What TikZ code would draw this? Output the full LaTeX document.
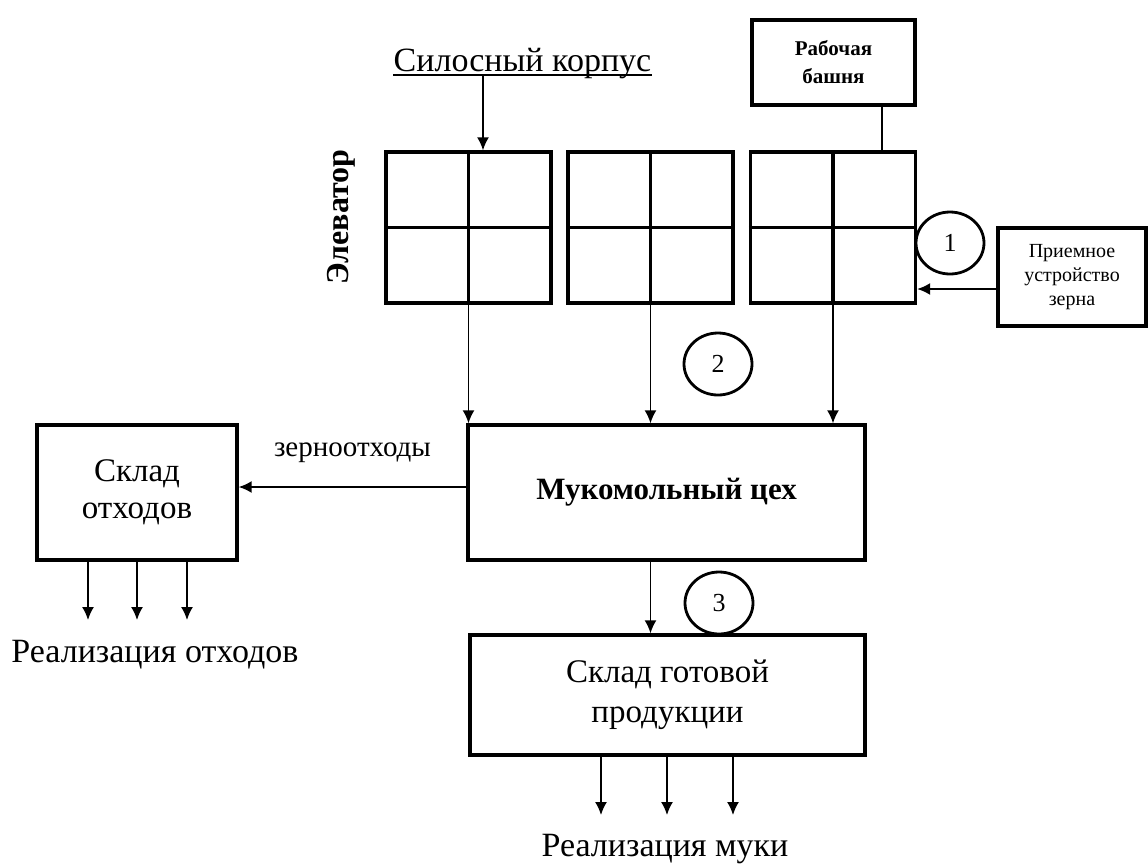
\documentclass[tikz,border=0pt]{standalone}
\usepackage{fontspec}
\setmainfont{Liberation Serif}
\usetikzlibrary{positioning, arrows.meta, shapes.geometric}

\begin{document}
\begin{tikzpicture}[
                x=0.5pt, y=-0.5pt,
                >={Latex[length=6.5pt,width=6pt]},
                every edge/.style={draw, line width=0.8pt},
                box/.style={draw, line width=1.7pt, align=center, inner sep=2pt},
                silo/.style={draw, line width=1.7pt, minimum width=82.5pt, minimum height=75.5pt},
                num/.style={draw, ellipse, line width=1.4pt, minimum width=34pt, minimum height=31pt, inner sep=0pt, font=\fontsize{13}{13}\selectfont},
                title/.style={align=center, inner sep=0pt, font=\fontsize{17}{20}\selectfont},
                label/.style={midway, inner sep=0pt, font=\fontsize{14.5}{16}\selectfont}]

    \useasboundingbox (0,0) rectangle (1148,864);

    %%% NODES
    \node [silo] (silo1) at (468.5,227.5) {};
    \node [silo] (silo2) at (650.5,227.5) {};
    \node [silo] (silo3) at (833,227.5) {};
    \foreach \s in {silo1,silo2,silo3}
        \draw [line width=1.7pt] (\s.north) -- (\s.south) (\s.west) -- (\s.east);

    \node [box, minimum width=81.5pt, minimum height=42.5pt, font=\bfseries\fontsize{10.5}{14}\selectfont] (tower) at (833.5,62.5) {Рабочая\\башня};
    \node [title, anchor=base] (silocorp) at (522.5,71) {Силосный корпус};
    \node [rotate=90, font=\bfseries\fontsize{16}{16}\selectfont] (elevator) at (341,217) {Элеватор};
    \node [box, minimum width=74pt, minimum height=49pt, font=\fontsize{10}{12}\selectfont] (intake) at (1072,277) {Приемное\\устройство\\зерна};

    \node [num] (n1) at (950,243) {1};
    \node [num] (n2) at (718,364) {2};
    \node [num] (n3) at (719,603) {3};

    \node [box, minimum width=198.5pt, minimum height=67.5pt, font=\bfseries\fontsize{15.5}{18}\selectfont] (mill) at (666.5,492.5) {Мукомольный цех};
    \node [box, minimum width=100pt, minimum height=67.5pt, font=\fontsize{16.5}{18.5}\selectfont] (waste) at (137,492.5) {Склад\\отходов};
    \node [box, minimum width=197.5pt, minimum height=60pt, font=\fontsize{16.5}{20}\selectfont] (store) at (667.5,695) {Склад готовой\\продукции};

    \node [title, anchor=base] (wastesale) at (155,662) {Реализация отходов};
    \node [title, anchor=base] (floursale) at (665,856) {Реализация муки};

    \coordinate (feed) at (483,0);
    \coordinate (towerleg) at (882,0);
    \coordinate (inlet) at (0,289);
    \coordinate (wasteline) at (0,487);
    \coordinate (wasteout) at (0,620);
    \coordinate (flourout) at (0,815);
    \coordinate (uline) at ([yshift=-2pt]silocorp.base);

    %%% CONNECTIONS
    \draw [line width=0.8pt] (silocorp.west |- uline) -- (silocorp.east |- uline);
    \path (uline -| feed) edge [->] (silo1.north -| feed);
    \path (tower.south -| towerleg) edge (silo3.north -| towerleg);
    \path (intake.west |- inlet) edge [->] (silo3.east |- inlet);
    \foreach \s in {silo1,silo2,silo3}
        \path (\s.south) edge [->] (\s.south |- mill.north);
    \path (mill.west |- wasteline) edge [->] node[label, above=12pt] {зерноотходы} (waste.east |- wasteline);
    \path (silo2.south |- mill.south) edge [->] (silo2.south |- store.north);
    \foreach \x in {88,137,187} {
        \coordinate (w) at (\x,0);
        \path (waste.south -| w) edge [->] (wasteout -| w);
    }
    \foreach \x in {601,667,733} {
        \coordinate (f) at (\x,0);
        \path (store.south -| f) edge [->] (flourout -| f);
    }

\end{tikzpicture}
\end{document}
